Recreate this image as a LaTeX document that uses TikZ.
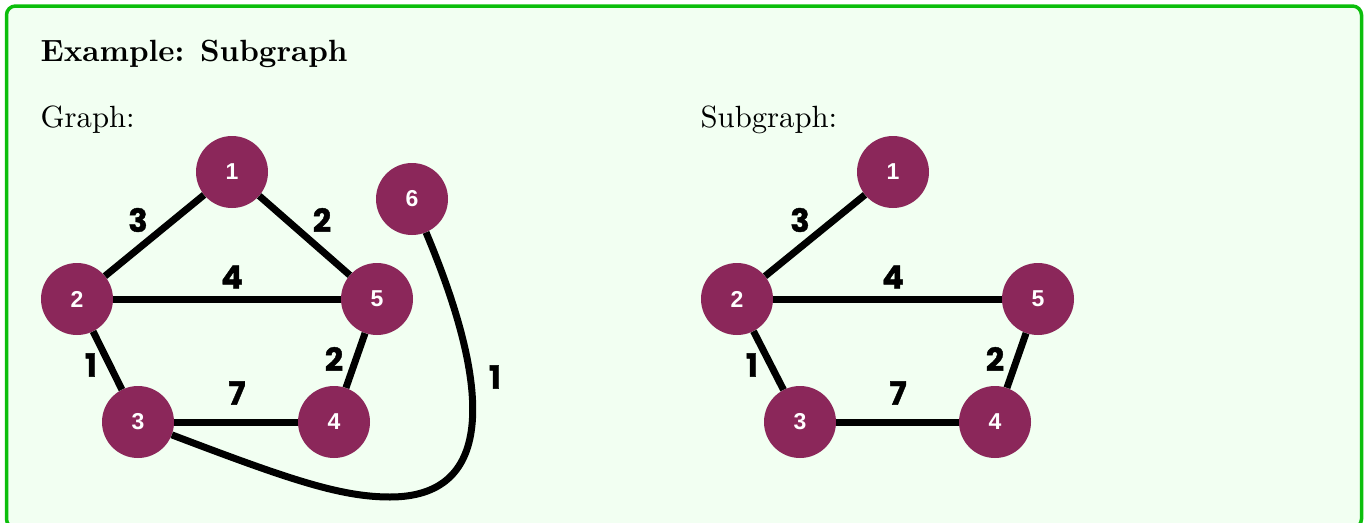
\documentclass[tikz,border=0pt]{standalone}
\usepackage{fontspec}
\newfontfamily\popfont{Poppins}[FakeBold=1.2]
\newfontfamily\lblfont{Liberation Sans}
\definecolor{nodepurple}{RGB}{139,39,90}
\definecolor{framegreen}{RGB}{12,190,12}
\definecolor{boxbg}{RGB}{242,255,242}
\begin{document}
\begin{tikzpicture}[x=1pt,y=-1pt,
  vtx/.style={circle, fill=nodepurple, minimum size=72pt, inner sep=0pt, text=white,
    font=\lblfont\fontsize{23}{23}\selectfont\bfseries},
  edge/.style={line width=7pt, black},
  wt/.style={font=\popfont\fontsize{32}{32}\selectfont\bfseries, inner sep=0pt},
  txt/.style={anchor=base west, inner sep=0pt, scale=3.07, font=\fontsize{10}{12}\selectfont}
]
\useasboundingbox (0,0) rectangle (1365,522);
\draw[framegreen, line width=3.5pt, rounded corners=9pt, fill=boxbg] (6.5,6) rectangle (1361.5,528);

\node[txt, font=\fontsize{10}{12}\selectfont\bfseries] (title) at (40,61) {Example: Subgraph};
\node[txt] (glabel) at (40,127) {Graph:};
\node[txt] (sglabel) at (700,127) {Subgraph:};

% left graph
\node[vtx] (a1) at (232,172) {1};
\node[vtx] (a2) at (77,299) {2};
\node[vtx] (a3) at (138,422) {3};
\node[vtx] (a4) at (334,422) {4};
\node[vtx] (a5) at (377,299) {5};
\node[vtx] (a6) at (412,199) {6};
\draw[edge] (a2) -- (a1);
\draw[edge] (a1) -- (a5);
\draw[edge] (a2) -- (a5);
\draw[edge] (a2) -- (a3);
\draw[edge] (a5) -- (a4);
\draw[edge] (a3) -- (a4);
\coordinate (abot) at (390,497);
\draw[edge] (a3) .. controls (288,479) and (340,497) .. (abot)
  .. controls (490,497) and (496,399) .. (a6);
\node[wt] (w13) at (138,220) {3};
\node[wt] (w15) at (322,220) {2};
\node[wt] (w25) at (232,277) {4};
\node[wt] (w23) at (91,365) {1};
\node[wt] (w45) at (334,359) {2};
\node[wt] (w34) at (237,393) {7};
\node[wt] (w36) at (495,377) {1};

% right graph
\node[vtx] (b1) at (893,172) {1};
\node[vtx] (b2) at (737,299) {2};
\node[vtx] (b3) at (800,422) {3};
\node[vtx] (b4) at (995,422) {4};
\node[vtx] (b5) at (1038,299) {5};
\draw[edge] (b2) -- (b1);
\draw[edge] (b2) -- (b5);
\draw[edge] (b2) -- (b3);
\draw[edge] (b5) -- (b4);
\draw[edge] (b3) -- (b4);
\node[wt] (v13) at (800,220) {3};
\node[wt] (v25) at (893,277) {4};
\node[wt] (v23) at (752,365) {1};
\node[wt] (v45) at (995,359) {2};
\node[wt] (v34) at (898,393) {7};
\end{tikzpicture}
\end{document}
